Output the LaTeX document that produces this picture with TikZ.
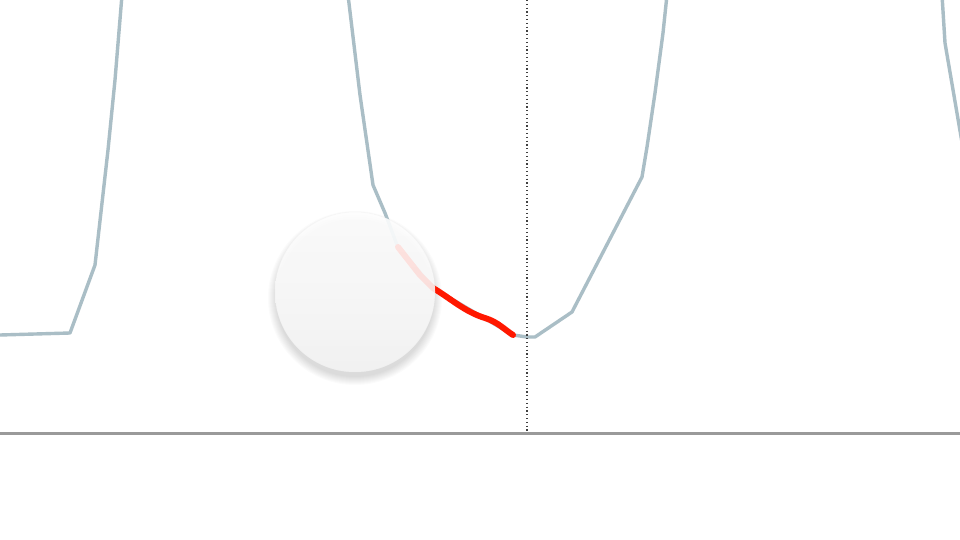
\documentclass[tikz,border=0pt]{standalone}
\definecolor{curve}{HTML}{AABEC6}
\definecolor{axis}{HTML}{9A9A9A}
\definecolor{hot}{HTML}{FF1800}
\tikzset{
  plotline/.style={draw=curve, line width=3.4pt, line join=round, line cap=round},
  hotline/.style={draw=hot, line width=6pt, line join=round, line cap=round},
  axisline/.style={draw=axis, line width=3pt},
  guide/.style={draw=black!75, line width=1.6pt, dash pattern=on 1.2pt off 2.6pt},
  knob/.style={circle, minimum size=160pt, inner sep=0pt, fill opacity=0.88,
     top color=white, bottom color=black!4, draw=black!6, draw opacity=0.5, line width=0.5pt},
  shade/.style={fill=black, fill opacity=0.016}
}
\begin{document}
\begin{tikzpicture}[x=1pt, y=-1pt]
\useasboundingbox (0,0) rectangle (960,540);
\fill[white] (0,0) rectangle (960,540);
% soft shadow
\foreach \r in {79,80,...,87} {
  \fill[shade] (355,298) circle[radius=\r pt];
}
% curves
\draw[plotline] (-5,335) -- (0,335) -- (70,333) -- (95,265) -- (108,150) -- (115,80) -- (122,-5);
\draw[plotline] (348,-5) -- (360,95) -- (373,185) -- (385,213) -- (397,245) -- (433,288) -- (513,335) -- (527,337) -- (535,337) -- (572,312) -- (642,177) -- (647,147) -- (655,93) -- (663,33) -- (667,-5);
\draw[plotline] (942,-5) -- (945,43) -- (965,160);
% red trail
\draw[hotline] (398,247) -- (420,275) -- (433,288) .. controls (450,298) and (465,312) .. (485,318) .. controls (498,322) and (505,330) .. (513,335);
% guide and axis
\coordinate (gtop) at (527,0);
\coordinate (gbot) at (527,433);
\draw[guide] (gtop) -- (gbot);
\draw[axisline] (0,433) -- (960,433);
% knob
\node[knob] (ball) at (355,292) {};
\end{tikzpicture}
\end{document}
